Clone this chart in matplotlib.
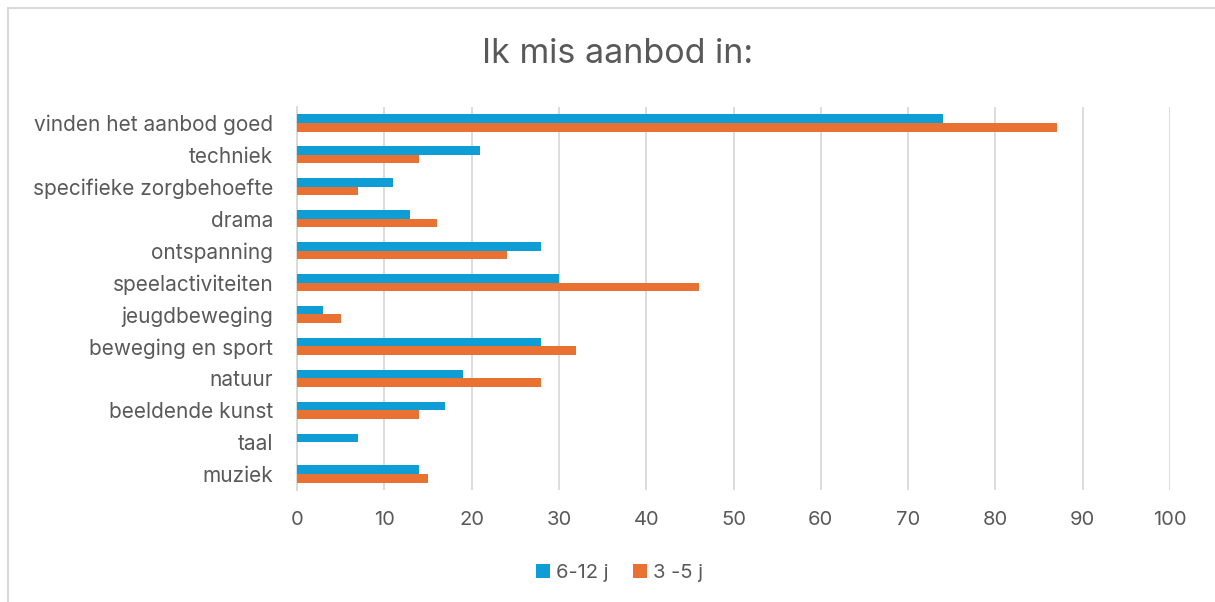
import numpy as np
import matplotlib.pyplot as plt
from matplotlib.lines import Line2D

plt.rcParams['font.family'] = ['Inter', 'DejaVu Sans']

categories = ['muziek', 'taal', 'beeldende kunst', 'natuur', 'beweging en sport',
              'jeugdbeweging', 'speelactiviteiten', 'ontspanning', 'drama',
              'specifieke zorgbehoefte', 'techniek', 'vinden het aanbod goed']
kids_6_12 = [14, 7, 17, 19, 28, 3, 30, 28, 13, 11, 21, 74]
kids_3_5 = [15, 0, 14, 28, 32, 5, 46, 24, 16, 7, 14, 87]
ticks = list(range(0, 101, 10))

text_color = '#595959'
blue = '#0E9ED5'
orange = '#E97132'

fig = plt.figure(figsize=(12.15, 6.02), dpi=100)
# chart border (only top and left edges are visible in the crop)
fig.lines.append(Line2D([8 / 1215, 1.0], [594 / 602, 594 / 602], transform=fig.transFigure,
                        color='#D9D9D9', linewidth=1.5))
fig.lines.append(Line2D([8 / 1215, 8 / 1215], [0, 594 / 602], transform=fig.transFigure,
                        color='#D9D9D9', linewidth=1.5))

ax = fig.add_axes([297 / 1215, 112 / 602, 873 / 1215, 383 / 602])

y = np.arange(len(categories))
h = 0.27
ax.barh(y + h / 2, kids_6_12, height=h, color=blue, label='6-12 j', zorder=3)
ax.barh(y - h / 2, kids_3_5, height=h, color=orange, label='3 -5 j', zorder=3)

ax.set_xlim(0, 100)
ax.set_ylim(-0.5, len(categories) - 0.5)
ax.set_xticks(ticks)
ax.set_yticks(y)
ax.set_yticklabels(categories)
ax.tick_params(axis='both', length=0, labelsize=14.5, colors=text_color)
ax.tick_params(axis='y', labelsize=15, pad=17)
ax.tick_params(axis='x', pad=15)
ax.xaxis.grid(True, color='#D9D9D9', linewidth=1.3, zorder=0)
for s in ['top', 'right', 'bottom']:
    ax.spines[s].set_visible(False)
ax.spines['left'].set_color('#D9D9D9')
ax.spines['left'].set_linewidth(1.3)

fig.text(0.508, 548 / 602, 'Ik mis aanbod in:', ha='center', va='center',
         fontsize=24.5, color=text_color)

ax.legend(loc='center', bbox_to_anchor=(0.51, 29 / 602), bbox_transform=fig.transFigure,
          ncol=2, frameon=False, fontsize=14.5, labelcolor=text_color,
          handlelength=0.7, handleheight=0.7, handletextpad=0.3, columnspacing=1.2)

plt.savefig('out.png', dpi=100)
